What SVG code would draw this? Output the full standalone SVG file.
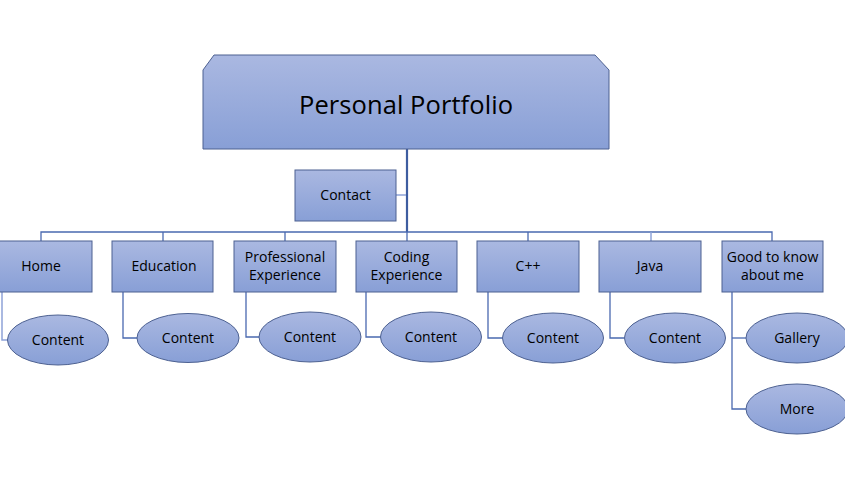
<svg xmlns="http://www.w3.org/2000/svg" width="845" height="496" viewBox="0 0 845 496">
<defs>
<linearGradient id="g" x1="0" y1="0" x2="0" y2="1">
<stop offset="0" stop-color="#aab8e1"/>
<stop offset="1" stop-color="#889fd6"/>
</linearGradient>
<style>
.n{fill:url(#g);stroke:#4d6191;stroke-width:1}
.t{font-family:"Open Sans","Noto Sans","DejaVu Sans",sans-serif;font-size:14px;fill:#000;text-anchor:middle}
.c{fill:none;stroke:#4a69b0;stroke-width:1.3}
.cl{fill:none;stroke:#8ea3d8;stroke-width:1.5}
</style>
</defs>
<rect width="845" height="496" fill="#fff"/>
<g id="connectors">
<line x1="407" y1="149" x2="407" y2="232" stroke="#3e5da0" stroke-width="2.2"/>
<line class="cl" x1="396" y1="195" x2="406" y2="195"/>
<polyline class="c" points="41,241 41,232 772,232 772,241"/>
<line class="c" x1="163" y1="232" x2="163" y2="241"/>
<line class="c" x1="285" y1="232" x2="285" y2="241"/>
<line class="c" x1="407" y1="232" x2="407" y2="241"/>
<line class="c" x1="528" y1="232" x2="528" y2="241"/>
<line class="cl" x1="651" y1="232" x2="651" y2="241"/>
<polyline class="cl" points="2,292 2,340 8,340"/>
<polyline class="c" points="123,292 123,338 137,338"/>
<polyline class="c" points="246,292 246,337 259,337"/>
<polyline class="c" points="366,292 366,337 381,337"/>
<polyline class="c" points="488,292 488,338 503,338"/>
<polyline class="c" points="610,292 610,338 624,338"/>
<polyline class="c" points="732,292 732,409 746,409"/>
<line class="c" x1="732" y1="338" x2="746" y2="338"/>
</g>
<g id="root">
<polygon class="n" points="214,55 595,55 609,70 609,149 203,149 203,70"/>
<text x="406" y="114" style="font-family:'Open Sans','Noto Sans',sans-serif;font-size:25.5px;text-anchor:middle" textLength="214">Personal Portfolio</text>
</g>
<g id="contact">
<rect class="n" x="295" y="170" width="101" height="51"/>
<text class="t" x="345.5" y="200">Contact</text>
</g>
<g id="home">
<rect class="n" x="-10" y="241" width="102" height="51"/>
<text class="t" x="41" y="271">Home</text>
</g>
<g id="education">
<rect class="n" x="112" y="241" width="101" height="51"/>
<text class="t" x="164" y="271">Education</text>
</g>
<g id="professional">
<rect class="n" x="234" y="241" width="102" height="51"/>
<text class="t" x="285" y="262">Professional</text>
<text class="t" x="285" y="280">Experience</text>
</g>
<g id="coding">
<rect class="n" x="356" y="241" width="101" height="51"/>
<text class="t" x="406.5" y="262">Coding</text>
<text class="t" x="406.5" y="280">Experience</text>
</g>
<g id="cpp">
<rect class="n" x="477" y="241" width="102" height="51"/>
<text class="t" x="528" y="271">C++</text>
</g>
<g id="java">
<rect class="n" x="599" y="241" width="102" height="51"/>
<text class="t" x="650" y="271">Java</text>
</g>
<g id="goodtoknow">
<rect class="n" x="722" y="241" width="101" height="51"/>
<text class="t" x="772.5" y="262">Good to know</text>
<text class="t" x="772.5" y="280">about me</text>
</g>
<g id="home-content">
<ellipse class="n" cx="58" cy="340" rx="50.5" ry="25"/>
<text class="t" x="58" y="345">Content</text>
</g>
<g id="education-content">
<ellipse class="n" cx="188" cy="338" rx="51" ry="24.5"/>
<text class="t" x="188" y="343">Content</text>
</g>
<g id="professional-content">
<ellipse class="n" cx="310" cy="337" rx="51" ry="25"/>
<text class="t" x="310" y="342">Content</text>
</g>
<g id="coding-content">
<ellipse class="n" cx="431" cy="337" rx="50.5" ry="25"/>
<text class="t" x="431" y="342">Content</text>
</g>
<g id="cpp-content">
<ellipse class="n" cx="553" cy="338" rx="50.5" ry="25"/>
<text class="t" x="553" y="343">Content</text>
</g>
<g id="java-content">
<ellipse class="n" cx="675" cy="338" rx="50.5" ry="25"/>
<text class="t" x="675" y="343">Content</text>
</g>
<g id="gallery">
<ellipse class="n" cx="797" cy="338" rx="51" ry="25"/>
<text class="t" x="797" y="343">Gallery</text>
</g>
<g id="more">
<ellipse class="n" cx="797" cy="409" rx="51" ry="25"/>
<text class="t" x="797" y="414">More</text>
</g>
</svg>
